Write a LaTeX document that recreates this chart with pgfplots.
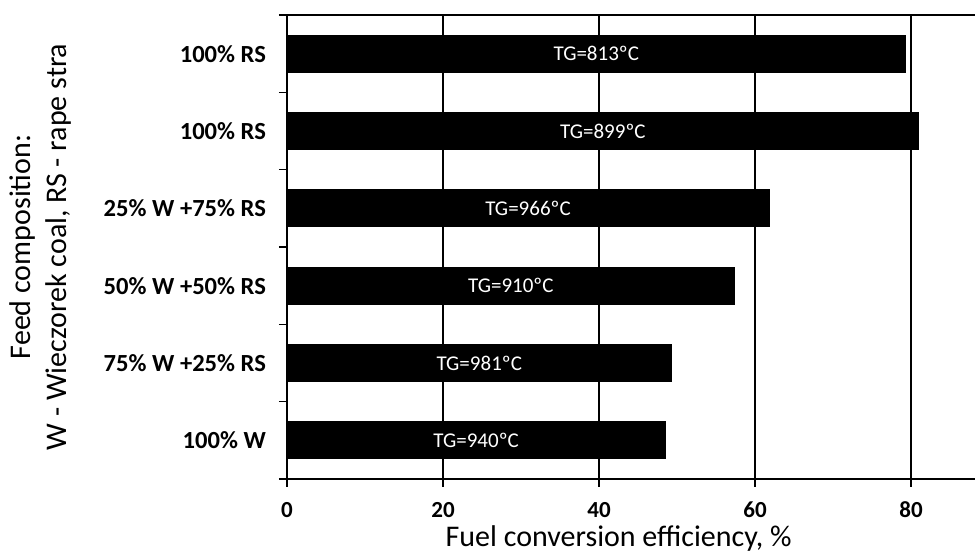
\documentclass[border=0pt]{standalone}
\usepackage{fontspec}
\setmainfont{Carlito}
\usepackage{pgfplots}
\pgfplotsset{compat=1.18}
\usepackage{pgfplotstable}
\pgfplotstableread{
pos value label
6 79.3 TG=813ºC
5 81.0 TG=899ºC
4 61.8 TG=966ºC
3 57.4 TG=910ºC
2 49.3 TG=981ºC
1 48.5 TG=940ºC
}\datatable
\begin{document}
\begin{tikzpicture}
\begin{axis}[
  at={(0,0)}, anchor=south west,
  scale only axis, width=344pt, height=232pt,
  xmin=0, xmax=88.2, ymin=0.5, ymax=6.5,
  axis x line*=box, axis y line*=left,
  xtick pos=bottom, ytick pos=left,
  axis line style={black, line width=0.7pt},
  tick style={black, line width=0.6pt},
  tick align=outside, major tick length=4pt,
  xtick={0,20,40,60,80},
  xmajorgrids, grid style={black, line width=0.55pt},
  ytick={0.5,1.5,...,6.5}, yticklabels={},
  extra y ticks={1,2,3,4,5,6},
  extra y tick labels={100\% W, 75\% W +25\% RS, 50\% W +50\% RS, 25\% W +75\% RS, 100\% RS, 100\% RS},
  extra y tick style={tick style={draw=none}},
  /pgf/number format/assume math mode=true,
  xticklabel style={font=\fontsize{11.5}{13}\selectfont\bfseries, yshift=-4pt},
  yticklabel style={font=\fontsize{12.3}{14}\selectfont\bfseries, xshift=-3pt},
  xlabel={Fuel conversion efficiency, \%},
  xlabel style={at={(axis description cs:0.482,0)}, anchor=base, yshift=-34pt, font=\fontsize{15}{18}\selectfont},
  ylabel={Feed composition:\\W - Wieczorek coal, RS - rape stra},
  ylabel style={at={(axis description cs:-0.359,0.5)}, anchor=center, align=center, font=\fontsize{15}{18}\selectfont},
]
\addplot[xbar, bar width=0.48, fill=black, draw=black] table[x=value, y=pos]{\datatable};
\addplot[draw=none, mark=none, nodes near coords, point meta=explicit symbolic,
  nodes near coords style={anchor=center, text=white, font=\fontsize{10.5}{12}\selectfont}]
  table[x expr=\thisrow{value}/2, y=pos, meta=label]{\datatable};
\end{axis}
\pgfresetboundingbox
\path[use as bounding box] (-143.5pt,-38.5pt) rectangle (344pt,239.5pt);
\end{tikzpicture}
\end{document}
